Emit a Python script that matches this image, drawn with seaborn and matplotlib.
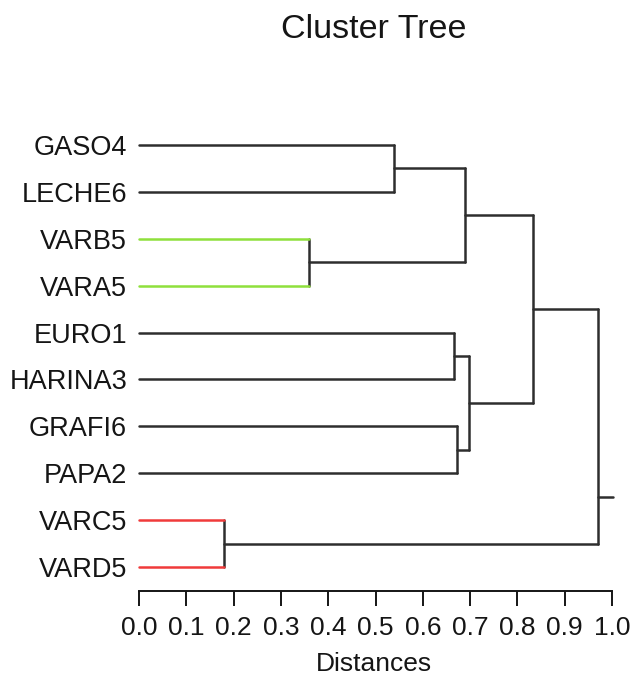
import numpy as np
import pandas as pd
import matplotlib
matplotlib.use("Agg")
import matplotlib.pyplot as plt
import seaborn as sns

# leaves, top to bottom
leaves = ["GASO4", "LECHE6", "VARB5", "VARA5", "EURO1",
          "HARINA3", "GRAFI6", "PAPA2", "VARC5", "VARD5"]

# merges: child a, child b, joining distance
merge_a = ["GASO4", "VARB5", "n1", "EURO1", "GRAFI6", "n4", "n3", "VARC5", "n7"]
merge_b = ["LECHE6", "VARA5", "n2", "HARINA3", "PAPA2", "n5", "n6", "VARD5", "n8"]
merge_dist = [0.540, 0.359, 0.689, 0.667, 0.672, 0.697, 0.834, 0.180, 0.971]

leaf_colors = {"VARB5": "#8fe03c", "VARA5": "#8fe03c",
               "VARC5": "#f03a3a", "VARD5": "#f03a3a"}
root_end = 1.0
root_stub_pos = 7.5

xticks = [round(0.1 * i, 1) for i in range(11)]

# build segments
pos = {name: float(i) for i, name in enumerate(leaves)}
dist = {name: 0.0 for name in leaves}
rows = []
seg = 0
for k, (a, b, d) in enumerate(zip(merge_a, merge_b, merge_dist)):
    node = f"n{k + 1}"
    for child in (a, b):
        c = leaf_colors.get(child, "black")
        rows += [(seg, dist[child], pos[child], c), (seg, d, pos[child], c)]
        seg += 1
    rows += [(seg, d, pos[a], "black"), (seg, d, pos[b], "black")]
    seg += 1
    pos[node] = (pos[a] + pos[b]) / 2
    dist[node] = d
rows += [(seg, merge_dist[-1], root_stub_pos, "black"), (seg, root_end + 0.003, root_stub_pos, "black")]
df = pd.DataFrame(rows, columns=["seg", "x", "y", "color"])

sns.set_style("white")
plt.rcParams["font.family"] = ["Liberation Sans", "DejaVu Sans"]

fig = plt.figure(figsize=(6.32, 6.75), dpi=100)
ax = fig.add_axes([139 / 632, 1 - 591 / 675, (612 - 139) / 632, (591 - 121.5) / 675])

palette = {"black": "#2e2e2e", "#8fe03c": "#8fe03c", "#f03a3a": "#f03a3a"}
sns.lineplot(data=df, x="x", y="y", units="seg", hue="color", palette=palette,
             estimator=None, sort=False, legend=False, lw=1.8, ax=ax)
for line in ax.lines:
    line.set_clip_on(False)

ax.set_xlim(0, 1.0)
ax.set_ylim(9.51, -0.5)
ax.set_xticks(xticks)
ax.set_xticklabels([f"{t:.1f}" for t in xticks])
ax.set_yticks(range(len(leaves)))
ax.set_yticklabels(leaves)
ax.tick_params(axis="y", length=0, pad=8.5, labelsize=19.5, colors="#151515")
ax.tick_params(axis="x", length=11, width=1.4, pad=7, labelsize=19, colors="#151515",
               direction="out", bottom=True)
for s in ["top", "right", "left"]:
    ax.spines[s].set_visible(False)
ax.spines["bottom"].set_color("#151515")
ax.spines["bottom"].set_linewidth(1.4)
ax.set_xlabel("")
ax.set_ylabel("")

fig.text(373.5 / 632, 1 - 30 / 675, "Cluster Tree", ha="center", va="center",
         fontsize=24.5, color="#151515")
fig.text(374 / 632, 1 - 664 / 675, "Distances", ha="center", va="center",
         fontsize=19, color="#151515")

fig.savefig("out.png", dpi=100)
